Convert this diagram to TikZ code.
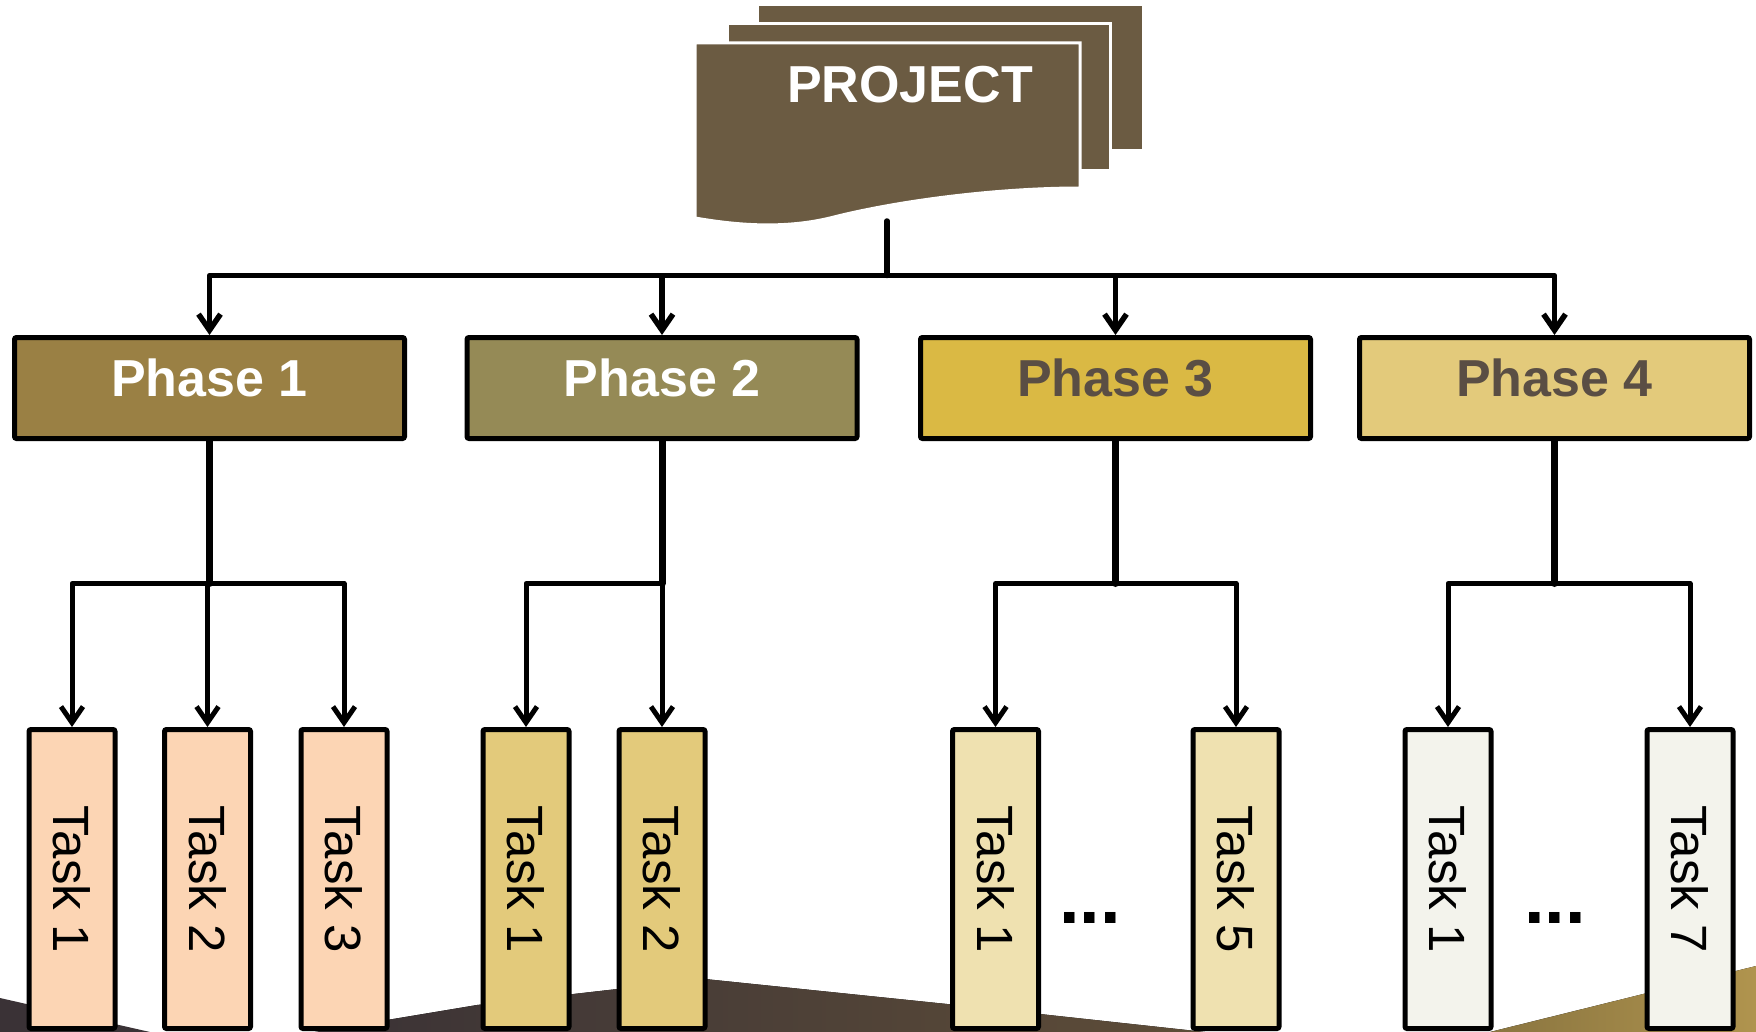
\documentclass[tikz,border=0pt]{standalone}
\usepackage{fontspec}
\usepackage{graphicx}
\setmainfont{Liberation Sans}
\usetikzlibrary{arrows.meta}

\definecolor{projbrown}{HTML}{6B5B42}
\definecolor{ph1}{HTML}{9A8044}
\definecolor{ph2}{HTML}{958A56}
\definecolor{ph3}{HTML}{DAB944}
\definecolor{ph4}{HTML}{E3CA7B}
\definecolor{phtext}{HTML}{5A4E44}
\definecolor{tk1}{HTML}{FCD5B4}
\definecolor{tk2}{HTML}{E3CA7B}
\definecolor{tk3}{HTML}{EFE1B0}
\definecolor{tk4}{HTML}{F3F3EC}
\definecolor{hilldark}{HTML}{3A3236}
\definecolor{hillbrown}{HTML}{5E4D38}
\definecolor{hillgoldA}{HTML}{8A7540}
\definecolor{hillgoldB}{HTML}{B0944E}

\begin{document}
\begin{tikzpicture}[x=0.5pt,y=-0.5pt,
  phasebox/.style={draw=black, line width=2.5pt, rounded corners=1pt,
    minimum width=195pt, minimum height=50.5pt, inner sep=0pt,
    text height=14pt, text depth=6pt,
    font=\bfseries\fontsize{26}{26}\selectfont},
  taskbox/.style={draw=black, line width=2.5pt, rounded corners=1pt,
    minimum width=43pt, minimum height=149.5pt, inner sep=0pt,
    font=\fontsize{25.5}{25.5}\selectfont},
  dotsnode/.style={inner sep=0pt, font=\bfseries\fontsize{37}{37}\selectfont},
  sheet/.style={fill=projbrown, draw=white, line width=1.5pt},
  trunk/.style={line width=2.75pt, line cap=round},
  drop/.style={line width=3.5pt, line cap=round},
  arr/.style={line width=2.5pt, line cap=round, line join=round,
    -{Straight Barb[length=8pt,width=11pt]}},
  bigarr/.style={arr, line width=2.75pt},
]
\useasboundingbox (0,0) rectangle (1756,1032);

% ground shapes along the lower edge
\begin{scope}
\clip (0,0) rectangle (1756,1032);
\fill[hilldark] (0,998) -- (150,1032) -- (0,1032) -- cycle;
\fill[left color=hilldark, right color=hillbrown]
  (315,1032) -- (477,1005) -- (705,979) -- (947,1004) -- (1040,1014)
  -- (1205,1032) -- cycle;
\fill[left color=hillgoldA, right color=hillgoldB]
  (1490,1032) -- (1756,966) -- (1756,1032) -- cycle;
\end{scope}

% stacked project sheets
\path[sheet] (757,5) rectangle (1143,151);
\path[sheet] (727,24) rectangle (1110,171);
\path[sheet] (695,43) -- (1080,43) -- (1080,188)
  .. controls (1000,188) and (900,200) .. (830,218)
  .. controls (780,230) and (730,224) .. (695,218) -- cycle;
\node[font=\bfseries\fontsize{26}{26}\selectfont, text=white,
  anchor=base, inner sep=0pt] (proj) at (910,103) {PROJECT};
\coordinate (projstem) at (887,221);
\coordinate (bus) at (887,275.5);

% phases
\node[phasebox, fill=ph1, text=white]  (p1) at (209.5,388)  {Phase 1};
\node[phasebox, fill=ph2, text=white]  (p2) at (662,388)    {Phase 2};
\node[phasebox, fill=ph3, text=phtext] (p3) at (1115.5,388) {Phase 3};
\node[phasebox, fill=ph4, text=phtext] (p4) at (1554.5,388) {Phase 4};

% tasks
\node[taskbox, fill=tk1] (t11) at (72,879)    {\rotatebox{-90}{Task 1}};
\node[taskbox, fill=tk1] (t12) at (207.5,879) {\rotatebox{-90}{Task 2}};
\node[taskbox, fill=tk1] (t13) at (344,879)   {\rotatebox{-90}{Task 3}};
\node[taskbox, fill=tk2] (t21) at (526,879)   {\rotatebox{-90}{Task 1}};
\node[taskbox, fill=tk2] (t22) at (662,879)   {\rotatebox{-90}{Task 2}};
\node[taskbox, fill=tk3] (t31) at (995.5,879) {\rotatebox{-90}{Task 1}};
\node[taskbox, fill=tk3] (t35) at (1236,879)  {\rotatebox{-90}{Task 5}};
\node[taskbox, fill=tk4] (t41) at (1448,879)  {\rotatebox{-90}{Task 1}};
\node[taskbox, fill=tk4] (t47) at (1690,879)  {\rotatebox{-90}{Task 7}};

\node[dotsnode] (d3) at (1090,918) {...};
\node[dotsnode] (d4) at (1555,918) {...};

% project to phases
\draw[trunk] (projstem) -- (bus);
\foreach \p in {p1,p2,p3,p4}
  \draw[bigarr] (bus) -| (\p.north);

% phases to tasks
\coordinate (jrow) at (0,583.5);
\foreach \p in {p1,p2,p3,p4}
  \draw[drop] (\p.south) -- (\p.south |- jrow) coordinate (j\p);
\foreach \t in {t11,t12,t13} \draw[arr] (jp1) -| (\t.north);
\foreach \t in {t21,t22}     \draw[arr] (jp2) -| (\t.north);
\foreach \t in {t31,t35}     \draw[arr] (jp3) -| (\t.north);
\foreach \t in {t41,t47}     \draw[arr] (jp4) -| (\t.north);
\end{tikzpicture}
\end{document}
